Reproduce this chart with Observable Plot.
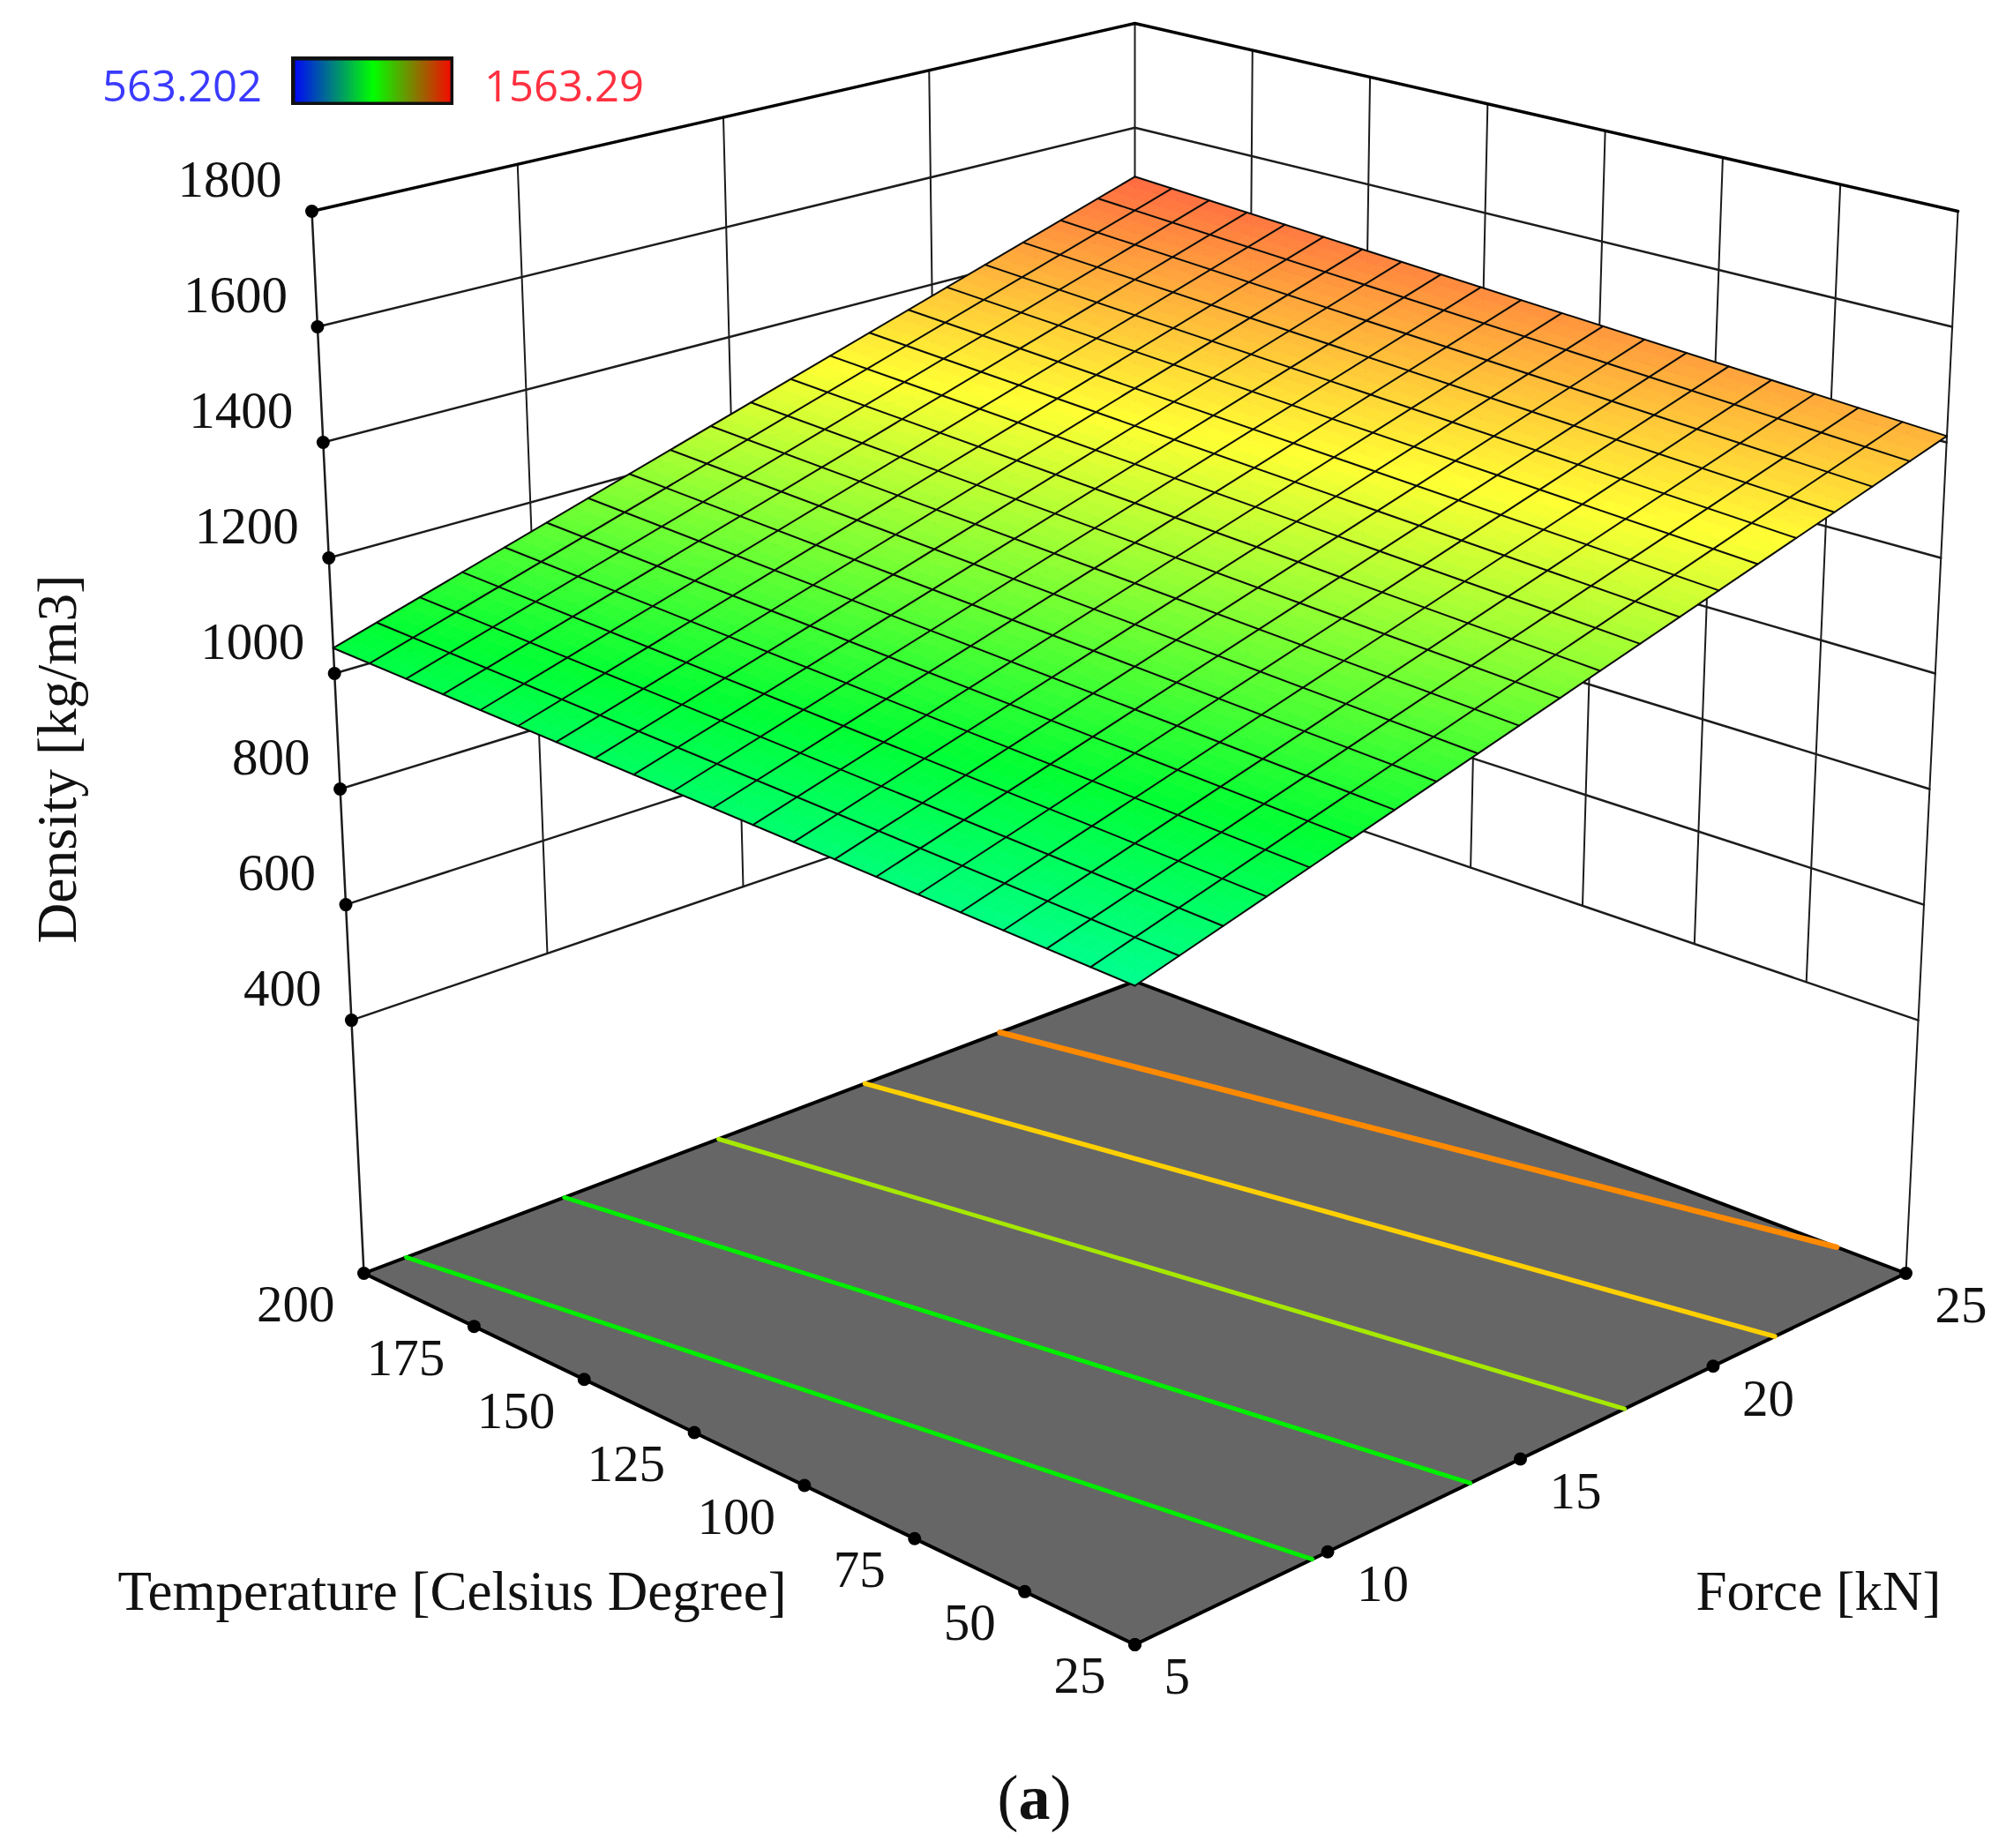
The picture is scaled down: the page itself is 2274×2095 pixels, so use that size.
<!DOCTYPE html>
<html><head><meta charset="utf-8">
<script src="https://cdn.jsdelivr.net/npm/d3@7"></script>
<script src="https://cdn.jsdelivr.net/npm/@observablehq/plot@0.6"></script>
<style>html,body{margin:0;padding:0;background:#fff}#wrap{position:relative;width:2274px;height:2095px}</style>
</head><body><div id="wrap"></div>
<script>
const temperatureTicks = [25,50,75,100,125,150,175,200];
const forceTicks = [5,10,15,20,25];
const densityTicks = [400,600,800,1000,1200,1400,1600,1800];
const densityFloor = -38;
// density read from the surface; one row per temperature tick, one column per force tick
const densityT25  = [949,1065,1180,1296,1411];
const densityT50  = [963,1078,1194,1309,1425];
const densityT75  = [976,1092,1207,1323,1438];
const densityT100 = [990,1105,1221,1336,1452];
const densityT125 = [1003,1119,1234,1350,1465];
const densityT150 = [1017,1132,1248,1363,1479];
const densityT175 = [1030,1146,1261,1377,1492];
const densityT200 = [1044,1159,1275,1390,1506];
const densityRows = [densityT25,densityT50,densityT75,densityT100,densityT125,densityT150,densityT175,densityT200];
// contour lines on the floor, as [temperature, force] pairs
const contour1 = [[200,6.1],[25,9.6]];
const contour2 = [[200,10.2],[25,13.7]];
const contour3 = [[200,14.2],[25,17.7]];
const contour4 = [[200,18],[25,21.6]];
const contour5 = [[200,21.5],[40.7,25]];
const contourColors = ["#00ee00","#00ee00","#a6e800","#ffd000","#ff8a00"];
const contourWidths = [5,5,5,5.5,6.5];
const colorDomain = [563.202,813,1063,1313,1563.29];
const colorRange = ["#0000ff","#00ffff","#00ff33","#ffff33","#ff3d46"];
const legendMin = 563.202, legendMax = 1563.29;
const titleT = "Temperature [Celsius Degree]", titleF = "Force [kN]", titleZ = "Density [kg/m3]";

// view of the box: where its eight corners fall on the page
const viewFloor = {front:[1286,1864],left:[412,1443],right:[2160,1443],back:[1286,1112]};
const viewTop   = {front:[1286,473], left:[353,239], right:[2219,239], back:[1286,26]};

const mix = (a,b,t)=>a+(b-a)*t;
function project(T,F,z){
  const s=(T-25)/175,b=(F-5)/20,h=(z-densityFloor)/(1800-densityFloor);
  const at=c=>i=>mix(mix(c.front[i],c.left[i],s),mix(c.right[i],c.back[i],s),b);
  const f=at(viewFloor),t=at(viewTop);
  return [mix(f(0),t(0),h),mix(f(1),t(1),h)];
}
function density(T,F){
  const u=Math.min(6.999,(T-25)/25),v=Math.min(3.999,(F-5)/5),i=Math.floor(u),j=Math.floor(v),a=u-i,c=v-j;
  return mix(mix(densityRows[i][j],densityRows[i+1][j],a),mix(densityRows[i][j+1],densityRows[i+1][j+1],a),c);
}
const pt=(id,T,F,z,extra={})=>{const [x,y]=project(T,F,z);return {id,x,y,...extra}};
const path=(id,list,extra)=>list.map(([T,F,z])=>pt(id,T,F,z,extra));

// the surface is seen in perspective: map its four projected corners by a plane homography
const c0=project(25,5,density(25,5)),c1=project(200,5,density(200,5)),c2=project(200,25,density(200,25)),c3=project(25,25,density(25,25));
const sx=c0[0]-c1[0]+c2[0]-c3[0],sy=c0[1]-c1[1]+c2[1]-c3[1];
const dx1=c1[0]-c2[0],dy1=c1[1]-c2[1],dx2=c3[0]-c2[0],dy2=c3[1]-c2[1],det=dx1*dy2-dx2*dy1;
const gg=(sx*dy2-dx2*sy)/det,hh=(dx1*sy-sx*dy1)/det;
function surfacePt(id,T,F,extra={}){
  const s=(T-25)/175,b=(F-5)/20,w=1+gg*s+hh*b;
  return {id,x:((c1[0]-c0[0]+gg*c1[0])*s+(c3[0]-c0[0]+hh*c3[0])*b+c0[0])/w,
             y:((c1[1]-c0[1]+gg*c1[1])*s+(c3[1]-c0[1]+hh*c3[1])*b+c0[1])/w,...extra};
}

// walls
const wallLevels=[];
for(const z of densityTicks) wallLevels.push(...path("z"+z,[[200,5,z],[200,25,z],[25,25,z]]));
const wallVerticals=[];
for(const F of forceTicks.slice(1,-1)) wallVerticals.push(...path("f"+F,[[200,F,400],[200,F,1800]]));
for(const T of temperatureTicks.slice(0,-1)) if(T>25) wallVerticals.push(...path("t"+T,[[T,25,400],[T,25,1800]]));
wallVerticals.push(...path("back",[[200,25,densityFloor],[200,25,1800]]));
wallVerticals.push(...path("axisR",[[25,25,densityFloor],[25,25,1800]]));
const axisLeft=path("axisL",[[200,5,densityFloor],[200,5,1800]]);

// floor
const floor=path("floor",[[25,5,densityFloor],[200,5,densityFloor],[200,25,densityFloor],[25,25,densityFloor],[25,5,densityFloor]]);
const contourData=[contour1,contour2,contour3,contour4,contour5].flatMap((c,i)=>c.map(([T,F])=>pt("c"+i,T,F,densityFloor)));

// surface: smooth shaded, drawn as small facets under a 20 x 20 mesh
const meshCells=20, shade=3, n=meshCells*shade;
const facets=[];
for(let i=0;i<n;i++)for(let j=0;j<n;j++){
  const T0=25+175*i/n,T1=25+175*(i+1)/n,F0=5+20*j/n,F1=5+20*(j+1)/n,v=density((T0+T1)/2,(F0+F1)/2),id=i+"_"+j;
  for(const [T,F] of [[T0,F0],[T1,F0],[T1,F1],[T0,F1],[T0,F0]]) facets.push(surfacePt(id,T,F,{v}));
}
const mesh=[];
for(let k=0;k<=meshCells;k++){
  const T=25+175*k/meshCells,F=5+20*k/meshCells;
  mesh.push(surfacePt("mT"+k,T,5),surfacePt("mT"+k,T,25));
  mesh.push(surfacePt("mF"+k,25,F),surfacePt("mF"+k,200,F));
}
const dotsZ=densityTicks.map(z=>pt("d",200,5,z,{label:String(z)}));
const dotsT=temperatureTicks.map(T=>pt("d",T,5,densityFloor,{label:String(T)}));
const dotsF=forceTicks.map(F=>pt("d",25,F,densityFloor,{label:String(F)}));
const serif="Liberation Serif";
const txt=(s,x,y,o)=>Plot.text([s],{x:()=>x,y:()=>y,text:d=>d,lineAnchor:"middle",fontFamily:serif,fontSize:59,fill:"#111",...o});
const grid="#1c1c1c";

const chart=Plot.plot({
  width:2274,height:2095,margin:0,
  x:{domain:[0,2274],range:[0,2274],axis:null},
  y:{domain:[0,2095],range:[0,2095],axis:null},
  color:{type:"linear",domain:colorDomain,range:colorRange,interpolate:"rgb"},
  marks:[
    Plot.line(wallVerticals,{x:"x",y:"y",z:"id",stroke:grid,strokeWidth:2}),
    Plot.line(wallLevels.filter(d=>d.id!=="z1800"),{x:"x",y:"y",z:"id",stroke:grid,strokeWidth:2.5}),
    Plot.line(wallLevels.filter(d=>d.id==="z1800"),{x:"x",y:"y",z:"id",stroke:"#000",strokeWidth:3.5}),
    Plot.line(axisLeft,{x:"x",y:"y",stroke:grid,strokeWidth:2.5}),
    Plot.line(floor,{x:"x",y:"y",fill:"#666666",stroke:"#000",strokeWidth:4}),
    ...[0,1,2,3,4].map(i=>Plot.line(contourData.filter(d=>d.id==="c"+i),{x:"x",y:"y",stroke:contourColors[i],strokeWidth:contourWidths[i]})),
    Plot.line(facets,{x:"x",y:"y",z:"id",fill:"v",stroke:"v",strokeWidth:0.7}),
    Plot.line(mesh,{x:"x",y:"y",z:"id",stroke:"#0a0a0a",strokeWidth:2}),
    Plot.dot([...dotsZ,...dotsT,...dotsF],{x:"x",y:"y",r:7.5,fill:"#000"}),
    Plot.text(dotsZ,{x:"x",y:"y",text:"label",dx:-34,dy:-35,textAnchor:"end",fontFamily:serif,fontSize:59,fill:"#111"}),
    Plot.text(dotsT,{x:"x",y:"y",text:"label",dx:-33,dy:36,textAnchor:"end",fontFamily:serif,fontSize:59,fill:"#111"}),
    Plot.text(dotsF,{x:"x",y:"y",text:"label",dx:33,dy:37,textAnchor:"start",fontFamily:serif,fontSize:59,fill:"#111"}),
    txt(titleT,512,1804,{textAnchor:"middle",fontSize:63}),
    txt(titleF,2061,1804,{textAnchor:"middle",fontSize:63}),
    txt(titleZ,65,860,{textAnchor:"middle",rotate:-90,fontSize:63.5}),
    txt("a",1172,2038,{textAnchor:"middle",fontWeight:"bold",fontSize:72}),
    txt("(",1154,2038,{textAnchor:"end",fontSize:72}),
    txt(")",1190,2038,{textAnchor:"start",fontSize:72}),
    txt(String(legendMin),206,99,{textAnchor:"middle",fontFamily:"Open Sans",fontSize:49,fill:"#3a3aff"}),
    txt(String(legendMax),639,99,{textAnchor:"middle",fontFamily:"Open Sans",fontSize:49,fill:"#ff3040"})
  ]
});
document.getElementById("wrap").appendChild(chart);

// colour bar
const barStep=(legendMax-legendMin)/92;
const barValues=d3.range(92).map(i=>legendMin+i*barStep);
const bar=Plot.plot({
  width:184,height:55,margin:0,
  x:{domain:[legendMin,legendMax],range:[0,184],axis:null},
  y:{domain:[0,1],range:[55,0],axis:null},
  color:{type:"linear",domain:[legendMin,(legendMin+legendMax)/2,legendMax],range:["#0000ff","#00ff00","#ff0000"],interpolate:"rgb"},
  marks:[
    Plot.rect(barValues,{x1:d=>d,x2:d=>d+barStep*1.05,y1:0,y2:1,fill:d=>d}),
    Plot.frame({stroke:"#111",strokeWidth:8})
  ]
});
bar.style.position="absolute";bar.style.left="330px";bar.style.top="64px";
document.getElementById("wrap").appendChild(bar);
</script></body></html>
